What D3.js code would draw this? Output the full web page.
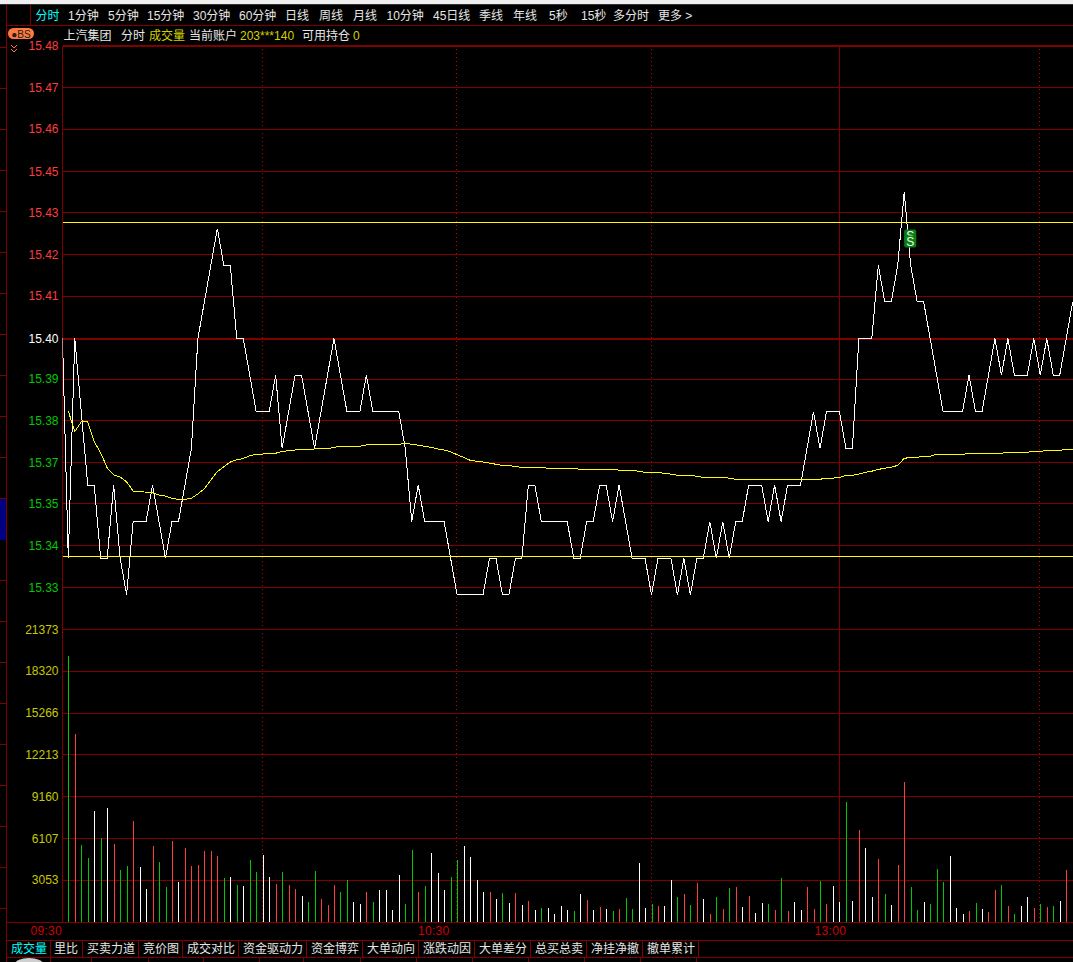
<!DOCTYPE html>
<html><head><meta charset="utf-8">
<script src="https://cdn.jsdelivr.net/npm/d3@7"></script>
<style>
html,body{margin:0;padding:0;background:#000;overflow:hidden}
svg{display:block}
text{font-family:"Liberation Sans","Noto Sans CJK SC",sans-serif;font-size:12px}
</style></head><body><svg id="c" width="1073" height="962"></svg>
<script>
const menuLabels=["分时","1分钟","5分钟","15分钟","30分钟","60分钟","日线","周线","月线","10分钟","45日线","季线","年线","5秒","15秒","多分时","更多 >"];
const tabLabels=["成交量","里比","买卖力道","竞价图","成交对比","资金驱动力","资金博弈","大单动向","涨跌动因","大单差分","总买总卖","净挂净撤","撤单累计"];
const infoLabels=["上汽集团","分时","成交量","当前账户","203***140","可用持仓","0"];
const priceTickValues=[15.48,15.4685,15.4571,15.4456,15.4344,15.4229,15.4115,15.40,15.3889,15.3775,15.3661,15.3549,15.3434,15.3319];
const priceTickLabels=["15.48","15.47","15.46","15.45","15.43","15.42","15.41","15.40","15.39","15.38","15.37","15.35","15.34","15.33"];
const volumeTicks=[3053,6107,9160,12213,15266,18320,21373];
const timeLabels=["09:30","10:30","13:00"];
const priceRefLines=[15.4319,15.3408];
const openPrice=15.40;
const prices=[15.34,15.40,15.38,15.36,15.36,15.34,15.34,15.36,15.34,15.33,15.35,15.35,15.35,15.36,15.35,15.34,15.35,15.35,15.36,15.37,
15.40,15.41,15.42,15.43,15.42,15.42,15.40,15.40,15.39,15.38,15.38,15.38,15.39,15.37,15.38,15.39,15.39,15.38,15.37,15.38,
15.39,15.40,15.39,15.38,15.38,15.38,15.39,15.38,15.38,15.38,15.38,15.38,15.37,15.35,15.36,15.35,15.35,15.35,15.35,15.34,
15.33,15.33,15.33,15.33,15.33,15.34,15.34,15.33,15.33,15.34,15.34,15.36,15.36,15.35,15.35,15.35,15.35,15.35,15.34,15.34,
15.35,15.35,15.36,15.36,15.35,15.36,15.35,15.34,15.34,15.34,15.33,15.34,15.34,15.34,15.33,15.34,15.33,15.34,15.34,15.35,
15.34,15.35,15.34,15.35,15.35,15.36,15.36,15.36,15.35,15.36,15.35,15.36,15.36,15.36,15.37,15.38,15.37,15.38,15.38,15.38,
15.37,15.37,15.40,15.40,15.40,15.42,15.41,15.41,15.42,15.44,15.42,15.41,15.41,15.40,15.39,15.38,15.38,15.38,15.38,15.39,
15.38,15.38,15.39,15.40,15.39,15.40,15.39,15.39,15.39,15.40,15.39,15.40,15.39,15.39,15.40,15.41];
const avgPrices=[15.3803,15.3747,15.3774,15.3774,15.3720,15.3689,15.3648,15.3629,15.3623,15.3610,15.3585,15.3583,15.3582,15.3580,15.3574,15.3571,15.3565,15.3562,15.3562,15.3565,
15.3577,15.3591,15.3615,15.3638,15.3651,15.3664,15.3670,15.3674,15.3681,15.3686,15.3686,15.3688,15.3688,15.3693,15.3695,15.3697,15.3697,15.3697,15.3700,15.3700,
15.3700,15.3704,15.3707,15.3707,15.3707,15.3707,15.3711,15.3711,15.3713,15.3713,15.3713,15.3713,15.3714,15.3713,15.3710,15.3707,15.3704,15.3700,15.3697,15.3692,
15.3684,15.3677,15.3669,15.3666,15.3664,15.3661,15.3658,15.3655,15.3655,15.3651,15.3650,15.3650,15.3650,15.3650,15.3647,15.3647,15.3647,15.3647,15.3647,15.3644,
15.3644,15.3644,15.3644,15.3644,15.3644,15.3642,15.3642,15.3642,15.3639,15.3636,15.3636,15.3636,15.3633,15.3631,15.3628,15.3628,15.3628,15.3625,15.3622,15.3622,
15.3622,15.3622,15.3620,15.3617,15.3617,15.3617,15.3617,15.3617,15.3617,15.3617,15.3617,15.3617,15.3617,15.3617,15.3617,15.3617,15.3617,15.3620,15.3620,15.3622,
15.3628,15.3628,15.3631,15.3636,15.3639,15.3644,15.3647,15.3650,15.3655,15.3674,15.3677,15.3677,15.3680,15.3680,15.3685,15.3685,15.3685,15.3685,15.3685,15.3688,
15.3688,15.3688,15.3688,15.3688,15.3688,15.3691,15.3691,15.3691,15.3691,15.3693,15.3693,15.3696,15.3696,15.3696,15.3699,15.3699];
const volumes=[19405,13715,5617,4669,8098,6128,8316,5690,3793,4085,7368,4012,2407,5544,4377,2553,5909,2918,5398,4085,4158,5180,5180,4815,3210,3283,2699,2626,4523,3648,
4888,3283,2772,3648,2699,2407,1897,1459,3720,1678,1240,2699,2189,3064,1459,1313,2189,1459,2334,2334,875,3429,1313,5252,2189,2626,5034,3575,2334,3283,
4523,5544,4742,3064,2189,2189,1678,2116,1386,2116,1240,1532,875,1021,1021,584,1167,875,802,2043,1605,875,1094,948,802,948,1751,948,4304,1021,
1313,1167,1167,3064,1824,2043,1240,2845,1678,584,1824,948,2480,2553,1094,1897,657,1386,1313,875,3210,802,1459,875,2553,948,2991,1313,2626,1459,
8754,1532,6712,5398,1824,4596,2043,1240,4158,10213,2553,875,1459,1313,3867,2918,4815,1021,584,802,1386,948,730,2334,2699,1167,584,1167,1824,1021,
1313,1094,1167,1532,3793,1313];
const volumeDirs=["grggwgwrgg","rwwrggrwrr","rrrrgwgwgg","wwrgrrwggr","rrggwwrgww","wwggrgwwwg","gwwwwrwgwr","wrwgwwwwgw",
"rwrwgrggww","grwwgrgrwr","grgrwrwwgr","grwwrrgrww","gwrwwrgwrr","ggwgggwwwr","gwrrgrgwwr","grgwrr"].join("");
</script>
<script>
const svg=d3.select("#c");
const W=1073,H=962,L=62.5,DARK="#800000";
const x=d3.scaleLinear().domain([0,155]).range([68.3,1072.7]);
const y=d3.scaleLinear().domain([15.40,15.48]).range([339,46]);
const yVol=d3.scaleLinear().domain([0,21373]).range([922,629.5]);
const crisp=s=>s.attr("shape-rendering","crispEdges");
svg.append("rect").attr("width",W).attr("height",H).attr("fill","#000");
svg.append("rect").attr("width",W).attr("height",4).attr("fill","#efefef");
crisp(svg.append("rect").attr("y",4).attr("width",W).attr("height",1).attr("fill","#333"));

const hline=(yy,x0,x1,col=DARK,w=1)=>crisp(svg.append("line").attr("x1",x0).attr("x2",x1).attr("y1",yy).attr("y2",yy).attr("stroke",col).attr("stroke-width",w));
const vline=(xx,y0,y1,col=DARK,w=1)=>crisp(svg.append("line").attr("x1",xx).attr("x2",xx).attr("y1",y0).attr("y2",y1).attr("stroke",col).attr("stroke-width",w));

// frame
vline(6.5,5,H); vline(30.5,5,25);
hline(25.5,6,W); hline(922.5,6,W); hline(940.5,6,W); hline(957.5,6,W);
d3.range(47,922,41).forEach(v=>hline(v+.5,0,6));
crisp(svg.append("rect").attr("x",0).attr("y",499).attr("width",6).attr("height",41).attr("fill","#000080"));

// vertical time grid
const dottedIdx=[30,60,90,150], lunchIdx=119;
const dotRows=d3.range(49,922,4);
dottedIdx.forEach(i=>{
  const col=Math.floor(x(i)-.5);
  crisp(svg.append("g").selectAll("rect").data(dotRows).join("rect")
    .attr("x",col).attr("y",d=>d).attr("width",1).attr("height",1).attr("fill","#d00000"));
});
vline(Math.round(x(lunchIdx))+.5,47,922);

// price axis with full-width grid
const axP=d3.axisLeft(y).tickValues(priceTickValues).tickFormat((d,i)=>priceTickLabels[i]).tickSize(-(W-L)).tickPadding(4);
const gP=svg.append("g").attr("transform",`translate(${L},-1)`).call(axP);
gP.select(".domain").remove();
crisp(gP.selectAll("line")).attr("stroke",DARK).attr("stroke-width",(d,i)=>[0,7].includes(i)?2:1);
gP.selectAll("text").attr("fill",(d,i)=>i<7?"#ff3c3c":i==7?"#ffffff":"#00c800").attr("font-size",12).attr("dy","0.34em");

// volume axis
const axV=d3.axisLeft(yVol).tickValues(volumeTicks).tickFormat(d3.format("d")).tickSize(-(W-L)).tickPadding(4);
const gV=svg.append("g").attr("transform",`translate(${L},-0.5)`).call(axV);
gV.select(".domain").remove();
crisp(gV.selectAll("line")).attr("stroke",DARK);
gV.selectAll("text").attr("fill","#c8c800").attr("font-size",12).attr("dy","0.34em");
vline(L,46,922);

// volume bars
const dirCols={g:"#00c800",r:"#ff3c3c",w:"#ffffff"};
crisp(svg.append("g").selectAll("line").data(volumes).join("line")
 .attr("x1",(d,i)=>Math.round(x(i))+.5).attr("x2",(d,i)=>Math.round(x(i))+.5)
 .attr("y1",d=>yVol(d)).attr("y2",yVol(0))
 .attr("stroke",(d,i)=>dirCols[volumeDirs[i]]).attr("stroke-width",1));

// lines
svg.append("clipPath").attr("id","pl").append("rect").attr("x",L).attr("y",46).attr("width",W-L).attr("height",580);
const line=d3.line().x(d=>d[0]).y(d=>d[1]);
const pricePts=[[L,y(openPrice)]].concat(prices.map((p,i)=>[x(i),y(p)]));
const avgPts=avgPrices.map((p,i)=>[x(i),y(p)]);
const lineG=svg.append("g").attr("clip-path","url(#pl)");
crisp(lineG.append("path").attr("transform","translate(0,-0.5)").attr("d",line(pricePts)).attr("fill","none").attr("stroke","#ffffff").attr("stroke-width",1));
crisp(lineG.append("path").attr("d",line(avgPts)).attr("fill","none").attr("stroke","#ffff00").attr("stroke-width",1));

// reference lines, above the price line
priceRefLines.forEach(p=>hline(Math.round(y(p))+.5,L,W,"#ffff00"));

// sell badge
const sx=x(130)-6.5;
[0,6].forEach(dy=>{
 svg.append("rect").attr("x",sx).attr("y",229.5+dy).attr("width",12).attr("height",12).attr("rx",2).attr("fill","#0a7d16");
 svg.append("text").attr("x",sx+6).attr("y",240+dy).attr("text-anchor","middle").attr("fill","#e8ffe8").style("font-size","12px").text("S");
});

// text helpers
const label=(t,xx,yy,col="#e6e6e6",anchor="start")=>svg.append("text").attr("x",xx).attr("y",yy).attr("fill",col).attr("text-anchor",anchor).attr("dominant-baseline","central").text(t);

const menuX=[35.5,68,108,147,193,239,285,319,353,386.5,433,479,513,549,581,613,658];
menuLabels.forEach((t,i)=>label(t,menuX[i],15.5,i==0?"#00ffff":"#e6e6e6"));

const infoX=[63.5,121,149,189,240,302,353];
infoLabels.forEach((t,i)=>label(t,infoX[i],35.5,[2,4,6].includes(i)?"#d2d200":"#e6e6e6"));

// BS badge + chevrons
svg.append("rect").attr("x",8).attr("y",28).attr("width",26).attr("height",11).attr("rx",5.5).attr("fill","#ff7a3c");
svg.append("text").attr("x",21).attr("y",34).attr("text-anchor","middle").attr("dominant-baseline","central").attr("fill","#202020").style("font-size","10px").text("●BS");
[45,49].forEach(v=>svg.append("path").attr("d",`M11,${v} L14,${v+3} L17,${v}`).attr("fill","none").attr("stroke","#ff7a3c"));

// tabs
const tabEdges=[50.5,82.5,138.5,182.5,238.5,306.5,362.5,418.5,474.5,530.5,586.5,642.5,698.5];
const tabX=[11,54,87,143,187,243,311,367,423,479,535,591,647];
tabEdges.forEach(v=>vline(v,940,957));
tabLabels.forEach((t,i)=>label(t,tabX[i],949,i==0?"#00ffff":"#e6e6e6"));
[50.5,91.5,148.5,203.5,259.5,303.5,360.5,416.5,472.5,528.5,584.5,640.5,696.5].forEach(v=>vline(v,957,H));
svg.append("ellipse").attr("cx",29).attr("cy",964).attr("rx",14).attr("ry",6).attr("fill","#cfcfcf");

// time labels
const timeIdx=[-3.4,56.4,117.6];
timeLabels.forEach((t,i)=>label(t,x(timeIdx[i]),930.5,"#d20000","middle").style("letter-spacing","0.3px"));
</script></body></html>
